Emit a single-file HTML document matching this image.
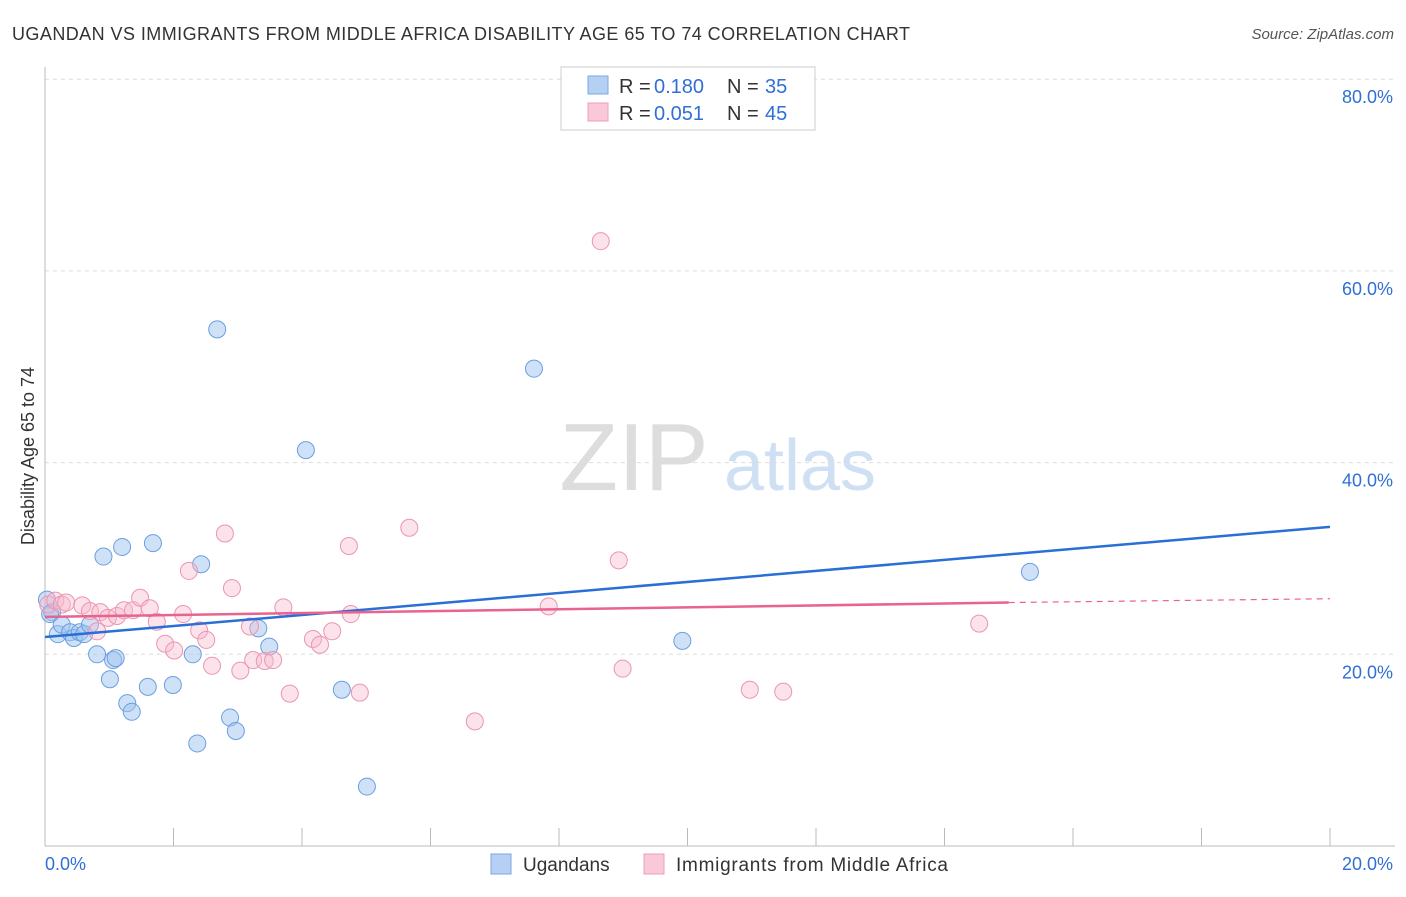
<!DOCTYPE html>
<html><head><meta charset="utf-8"><style>
body{margin:0;background:#fff;font-family:"Liberation Sans",sans-serif}
svg text{font-family:"Liberation Sans",sans-serif}
</style></head><body>
<svg id="chart" width="1406" height="892">
<text x="12" y="40" font-size="18" fill="#333" textLength="898" lengthAdjust="spacing">UGANDAN VS IMMIGRANTS FROM MIDDLE AFRICA DISABILITY AGE 65 TO 74 CORRELATION CHART</text>
<text x="1394" y="39" font-size="15" fill="#555" font-style="italic" text-anchor="end">Source: ZipAtlas.com</text>
<g>
<text x="634" y="490" font-size="96" fill="#ddd" font-family="Liberation Serif" text-anchor="middle">ZIP</text>
<text x="800" y="490" font-size="72" fill="#cfe0f5" text-anchor="middle">atlas</text>
</g>
<g id="grid"></g>
<g id="axes"></g>
<text transform="translate(34,456) rotate(-90)" font-size="18" fill="#333" text-anchor="middle">Disability Age 65 to 74</text>
<g id="marks"></g>
<g>
<rect x="561" y="67" width="254" height="63" fill="#fff" stroke="#ccc"/>
<rect x="588" y="76" width="20" height="18" fill="#b5d0f3" stroke="#7aa7e3"/>
<rect x="588" y="103" width="20" height="18" fill="#f9c9d7" stroke="#eaa0b8"/>
<text x="619" y="93" font-size="20" fill="#333">R =</text><text x="654" y="93" font-size="20" fill="#2f6fd6">0.180</text>
<text x="727" y="93" font-size="20" fill="#333">N =</text><text x="765" y="93" font-size="20" fill="#2f6fd6">35</text>
<text x="619" y="120" font-size="20" fill="#333">R =</text><text x="654" y="120" font-size="20" fill="#2f6fd6">0.051</text>
<text x="727" y="120" font-size="20" fill="#333">N =</text><text x="765" y="120" font-size="20" fill="#2f6fd6">45</text>
</g>
<g>
<rect x="491" y="854" width="20" height="20" fill="#b5d0f3" stroke="#7aa7e3"/>
<text x="523" y="871" font-size="19" fill="#333">Ugandans</text>
<rect x="644" y="854" width="20" height="20" fill="#f9c9d7" stroke="#eaa0b8"/>
<text x="676" y="871" font-size="19" fill="#333" textLength="272" lengthAdjust="spacing">Immigrants from Middle Africa</text>
</g>
</svg>
<script>
const yTicks=[20,40,60,80];
const yTickLabels=["20.0%","40.0%","60.0%","80.0%"];
const xTickLabels=["0.0%","20.0%"];
const blueX=[0.03,0.11,0.08,0.2,0.26,0.39,0.45,0.54,0.61,0.7,0.81,0.91,1.01,1.06,1.1,1.2,1.28,1.35,1.6,1.68,1.99,2.3,2.37,2.43,2.68,2.88,2.97,3.32,3.49,4.06,4.62,5.01,7.61,9.92,15.33];
const blueY=[25.7,24.4,24.2,22.1,23.1,22.3,21.7,22.3,22.1,23.1,20.0,30.2,17.4,19.4,19.6,31.2,14.9,14.0,16.6,31.6,16.8,20.0,10.7,29.4,53.9,13.4,12.0,22.7,20.8,41.3,16.3,6.2,49.8,21.4,28.6];
const pinkX=[0.05,0.16,0.26,0.33,0.58,0.7,0.81,0.86,0.98,1.12,1.23,1.37,1.48,1.63,1.74,1.87,2.01,2.15,2.24,2.4,2.51,2.6,2.8,2.91,3.04,3.19,3.24,3.42,3.55,3.71,3.81,4.17,4.28,4.47,4.73,4.76,4.9,5.67,6.69,7.84,8.65,8.93,8.99,10.97,11.49,14.54];
const pinkY=[25.2,25.6,25.2,25.4,25.1,24.5,22.4,24.4,23.8,24.0,24.6,24.6,25.9,24.8,23.4,21.1,20.4,24.2,28.7,22.5,21.5,18.8,32.6,26.9,18.3,22.9,19.4,19.3,19.4,24.9,15.9,21.6,21.0,22.4,31.3,24.2,16.0,33.2,13.0,25.0,63.1,29.8,18.5,16.3,16.1,23.2];
const blueTrendX=[0,20],blueTrendY=[21.8,33.3];
const pinkTrendX=[0,15,20],pinkTrendY=[23.9,25.4,25.8];
const X=v=>45+v*64.25, Y=v=>846-v*9.585;
const NS="http://www.w3.org/2000/svg";
function mk(tag,attrs,parent){const e=document.createElementNS(NS,tag);for(const k in attrs)e.setAttribute(k,attrs[k]);parent.appendChild(e);return e;}
const grid=document.getElementById('grid'),axes=document.getElementById('axes'),marks=document.getElementById('marks');
yTicks.forEach((t,i)=>{
 const l=mk('line',{x1:45,x2:1395,y1:Y(t),y2:Y(t),stroke:'#ddd','stroke-dasharray':'4,4'},grid);
 
 
 const tx=mk('text',{x:1393,y:Y(t)+24,'font-size':18,fill:'#2f6fd6','text-anchor':'end'},axes);
 tx.textContent=yTickLabels[i];
 
 
});
mk('line',{x1:45,x2:45,y1:67,y2:846,stroke:'#bbb'},axes);
mk('line',{x1:45,x2:1395,y1:846,y2:846,stroke:'#bbb'},axes);
for(let i=0;i<=10;i++){const t=mk('line',{x1:X(i*2),x2:X(i*2),y1:828,y2:846,stroke:'#bbb'},axes);
 
 }
[[0,'start',45],[20,'end',1393]].forEach((d,i)=>{const t=mk('text',{x:d[2],y:870,'font-size':18,fill:'#2f6fd6','text-anchor':d[1]},axes);t.textContent=xTickLabels[i];
 
 });
blueX.forEach((x,i)=>{const c=mk('circle',{cx:X(x),cy:Y(blueY[i]),r:8.5,fill:'rgba(160,196,240,0.5)',stroke:'#6a9fe0','stroke-width':1},marks);
 
 });
pinkX.forEach((x,i)=>{const c=mk('circle',{cx:X(x),cy:Y(pinkY[i]),r:8.5,fill:'rgba(248,185,205,0.4)',stroke:'#eb95b0','stroke-width':1},marks);
 
 });
const bl=mk('line',{x1:X(blueTrendX[0]),y1:Y(blueTrendY[0]),x2:X(blueTrendX[1]),y2:Y(blueTrendY[1]),stroke:'#2a6fd6','stroke-width':2.5},marks);


const pl=mk('line',{x1:X(pinkTrendX[0]),y1:Y(pinkTrendY[0]),x2:X(pinkTrendX[1]),y2:Y(pinkTrendY[1]),stroke:'#e8638f','stroke-width':2.5},marks);


const pd=mk('line',{x1:X(pinkTrendX[1]),y1:Y(pinkTrendY[1]),x2:X(pinkTrendX[2]),y2:Y(pinkTrendY[2]),stroke:'#e8638f','stroke-width':1.2,'stroke-dasharray':'6,5'},marks);


</script>
</body></html>
